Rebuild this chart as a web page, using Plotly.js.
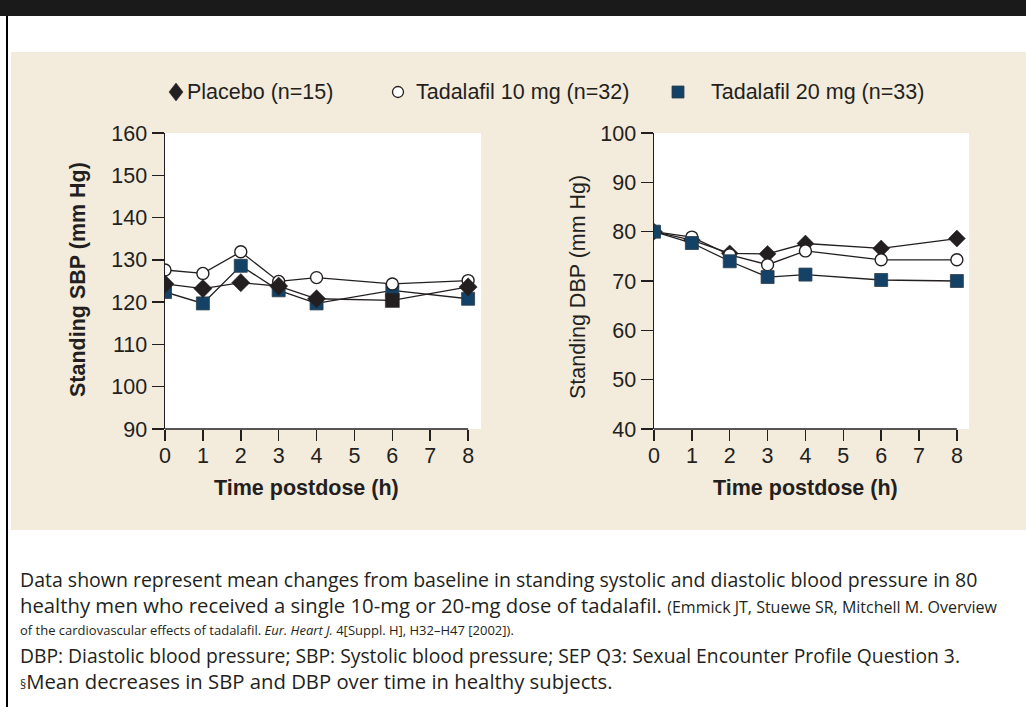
<!DOCTYPE html>
<html>
<head>
<meta charset="utf-8">
<script src="https://cdn.plot.ly/plotly-3.0.1.min.js"></script>
<style>html,body{margin:0;padding:0;background:#fff;}#chart{width:1026px;height:707px;}</style>
</head>
<body>
<div id="chart"></div>
<script>
// ---- data ----
const hours = [0, 1, 2, 3, 4, 6, 8];
const xTickVals = [0, 1, 2, 3, 4, 5, 6, 7, 8];
const sbpTickVals = [90, 100, 110, 120, 130, 140, 150, 160];
const dbpTickVals = [40, 50, 60, 70, 80, 90, 100];

const seriesNames = ["Placebo (n=15)", "Tadalafil 10 mg (n=32)", "Tadalafil 20 mg (n=33)"];

const sbpPlacebo = [124.3, 123.2, 124.6, 123.8, 120.8, 120.4, 123.6];
const sbpTad10   = [127.6, 126.8, 131.9, 124.9, 125.8, 124.3, 125.1];
const sbpTad20   = [122.4, 119.7, 128.6, 122.8, 119.7, 122.8, 120.8];

const dbpPlacebo = [80.0, 78.3, 75.6, 75.5, 77.6, 76.6, 78.6];
const dbpTad10   = [80.0, 78.9, 75.3, 73.3, 76.1, 74.3, 74.3];
const dbpTad20   = [80.0, 77.7, 74.0, 70.8, 71.3, 70.2, 70.0];

const captionLines = [
  "Data shown represent mean changes from baseline in standing systolic and diastolic blood pressure in 80",
  "healthy men who received a single 10-mg or 20-mg dose of tadalafil. <span style='font-size:16px'>(Emmick JT, Stuewe SR, Mitchell M. Overview</span>",
  "<span style='font-size:13px'>of the cardiovascular effects of tadalafil. <i>Eur. Heart J.</i> 4[Suppl. H], H32–H47 [2002]).</span>",
  "DBP: Diastolic blood pressure; SBP: Systolic blood pressure; SEP Q3: Sexual Encounter Profile Question 3.",
  "<span style='font-size:12px'>§</span>Mean decreases in SBP and DBP over time in healthy subjects."
];

// ---- styling ----
const W = 1026, H = 707;
const ink = "#231f20";
const blue = "#134266";
const beige = "#f3ebdb";
const px = v => v / W;
const py = v => 1 - v / H;
const sansAxis = "Liberation Sans, Arial, sans-serif";
const sansText = "Open Sans, Noto Sans, sans-serif";

function placeboTrace(y, xa, ya, size, symbols) {
  return {x: hours, y: y, xaxis: xa, yaxis: ya, type: "scatter", mode: "lines+markers",
    name: seriesNames[0], showlegend: false, hoverinfo: "skip",
    line: {color: ink, width: 1.3},
    marker: {symbol: symbols || "diamond", size: size, color: ink, line: {color: ink, width: 0.5}}};
}
function tad10Trace(y, xa, ya) {
  return {x: hours, y: y, xaxis: xa, yaxis: ya, type: "scatter", mode: "lines+markers",
    name: seriesNames[1], showlegend: false, hoverinfo: "skip",
    line: {color: ink, width: 1.3},
    marker: {symbol: "circle", size: 12, color: "#ffffff", line: {color: ink, width: 1.4}}};
}
function tad20Trace(y, xa, ya) {
  return {x: hours, y: y, xaxis: xa, yaxis: ya, type: "scatter", mode: "lines+markers",
    name: seriesNames[2], showlegend: false, hoverinfo: "skip",
    line: {color: ink, width: 1.3},
    marker: {symbol: "square", size: 13, color: blue, line: {color: "#2c3e4c", width: 0.8}}};
}

// left plot: 6 h placebo point drawn as a black square in the source figure
const leftPlaceboSymbols = hours.map(h => h === 6 ? "square" : "diamond");

const traces = [
  tad20Trace(sbpTad20, "x", "y"),
  tad10Trace(sbpTad10, "x", "y"),
  placeboTrace(sbpPlacebo, "x", "y", 14, leftPlaceboSymbols),
  placeboTrace(dbpPlacebo, "x2", "y2", 13),
  tad10Trace(dbpTad10, "x2", "y2"),
  tad20Trace(dbpTad20, "x2", "y2")
];

function xAxis(domain, range, anchor) {
  return {domain: domain, range: range, anchor: anchor, tickmode: "array", tickvals: xTickVals,
    ticktext: xTickVals.map(String), ticks: "outside", ticklen: 11, tickwidth: 1.5, tickcolor: ink,
    ticklabelstandoff: -4,
    showline: false, showgrid: false, zeroline: false, fixedrange: true,
    tickfont: {family: sansAxis, size: 21.5, color: ink}};
}
function yAxis(domain, range, tickvals, anchor) {
  return {domain: domain, range: range, anchor: anchor, tickmode: "array", tickvals: tickvals,
    ticktext: tickvals.map(String), ticks: "outside", ticklen: 12, tickwidth: 1.5, tickcolor: ink,
    showline: true, linecolor: ink, linewidth: 1.5, showgrid: false, zeroline: false, fixedrange: true,
    tickfont: {family: sansAxis, size: 21.5, color: ink}};
}

const yDom = [py(429), py(133)];
const leftXDom = [px(165), px(481)];
const rightXDom = [px(654), px(969)];

const shapes = [
  {type: "rect", xref: "paper", yref: "paper", x0: px(11), x1: 1, y0: py(530), y1: py(52),
   fillcolor: beige, line: {width: 0}, layer: "below"},
  {type: "rect", xref: "paper", yref: "paper", x0: leftXDom[0], x1: leftXDom[1], y0: yDom[0], y1: yDom[1],
   fillcolor: "#ffffff", line: {width: 0}, layer: "below"},
  {type: "rect", xref: "paper", yref: "paper", x0: rightXDom[0], x1: rightXDom[1], y0: yDom[0], y1: yDom[1],
   fillcolor: "#ffffff", line: {width: 0}, layer: "below"},
  {type: "rect", xref: "paper", yref: "paper", x0: 0, x1: 1, y0: py(16), y1: 1,
   fillcolor: "#1a1a1a", line: {width: 0}, layer: "below"},
  {type: "rect", xref: "paper", yref: "paper", x0: px(6), x1: px(8), y0: 0, y1: py(16),
   fillcolor: "#000000", line: {width: 0}, layer: "below"},
  // x axis baselines (end at last time point)
  {type: "line", xref: "x", yref: "paper", x0: hours[0], x1: hours[hours.length - 1], y0: yDom[0], y1: yDom[0],
   line: {color: ink, width: 1.5}},
  {type: "line", xref: "x2", yref: "paper", x0: hours[0], x1: hours[hours.length - 1], y0: yDom[0], y1: yDom[0],
   line: {color: ink, width: 1.5}},
  // legend symbols
  {type: "path", xref: "paper", yref: "paper",
   path: `M ${px(169)} ${py(92)} L ${px(176)} ${py(83)} L ${px(183)} ${py(92)} L ${px(176)} ${py(101)} Z`,
   fillcolor: ink, line: {color: ink, width: 0.5}},
  {type: "circle", xref: "paper", yref: "paper", x0: px(392.5), x1: px(403.5), y0: py(97.5), y1: py(86.5),
   fillcolor: "#ffffff", line: {color: ink, width: 1.3}},
  {type: "rect", xref: "paper", yref: "paper", x0: px(672), x1: px(684), y0: py(98), y1: py(86),
   fillcolor: blue, line: {color: "#2c3e4c", width: 0.8}}
];

const annotations = [
  {text: "<b>Standing SBP (mm Hg)</b>", xref: "paper", yref: "paper", x: px(78), y: py(280),
   xanchor: "center", yanchor: "middle", textangle: -90, showarrow: false,
   font: {family: sansAxis, size: 21.5, color: ink}},
  {text: "Standing DBP (mm Hg)", xref: "paper", yref: "paper", x: px(578), y: py(287),
   xanchor: "center", yanchor: "middle", textangle: -90, showarrow: false,
   font: {family: sansAxis, size: 21.5, color: ink}},
  {text: "<b>Time postdose (h)</b>", xref: "paper", yref: "paper", x: px(306), y: py(488),
   xanchor: "center", yanchor: "middle", showarrow: false, font: {family: sansAxis, size: 21.5, color: ink}},
  {text: "<b>Time postdose (h)</b>", xref: "paper", yref: "paper", x: px(805), y: py(488),
   xanchor: "center", yanchor: "middle", showarrow: false, font: {family: sansAxis, size: 21.5, color: ink}},
  {text: seriesNames[0], xref: "paper", yref: "paper", x: px(185), y: py(92), xanchor: "left", yanchor: "middle",
   showarrow: false, font: {family: sansAxis, size: 21.5, color: ink}},
  {text: seriesNames[1], xref: "paper", yref: "paper", x: px(414), y: py(92), xanchor: "left", yanchor: "middle",
   showarrow: false, font: {family: sansAxis, size: 21.5, color: ink}},
  {text: seriesNames[2], xref: "paper", yref: "paper", x: px(709), y: py(92), xanchor: "left", yanchor: "middle",
   showarrow: false, font: {family: sansAxis, size: 21.5, color: ink}}
];

const captionY = [579, 605, 630, 655, 681];
const captionSize = [19.5, 20.3, 19.3, 19.3, 20.3];
captionLines.forEach((t, i) => {
  annotations.push({text: t, xref: "paper", yref: "paper", x: px(18), y: py(captionY[i]),
    xanchor: "left", yanchor: "middle", align: "left", showarrow: false,
    font: {family: sansText, size: captionSize[i], color: ink}});
});

const layout = {
  width: W, height: H, margin: {l: 0, r: 0, t: 0, b: 0, pad: 0},
  paper_bgcolor: "#ffffff", plot_bgcolor: "rgba(0,0,0,0)", showlegend: false,
  xaxis: xAxis(leftXDom, [0, 8.34], "y"),
  yaxis: yAxis(yDom, [90, 160], sbpTickVals, "x"),
  xaxis2: xAxis(rightXDom, [0, 8.32], "y2"),
  yaxis2: yAxis(yDom, [40, 100], dbpTickVals, "x2"),
  shapes: shapes,
  annotations: annotations
};

Plotly.newPlot("chart", traces, layout, {displayModeBar: false, staticPlot: true});
</script>
</body>
</html>
